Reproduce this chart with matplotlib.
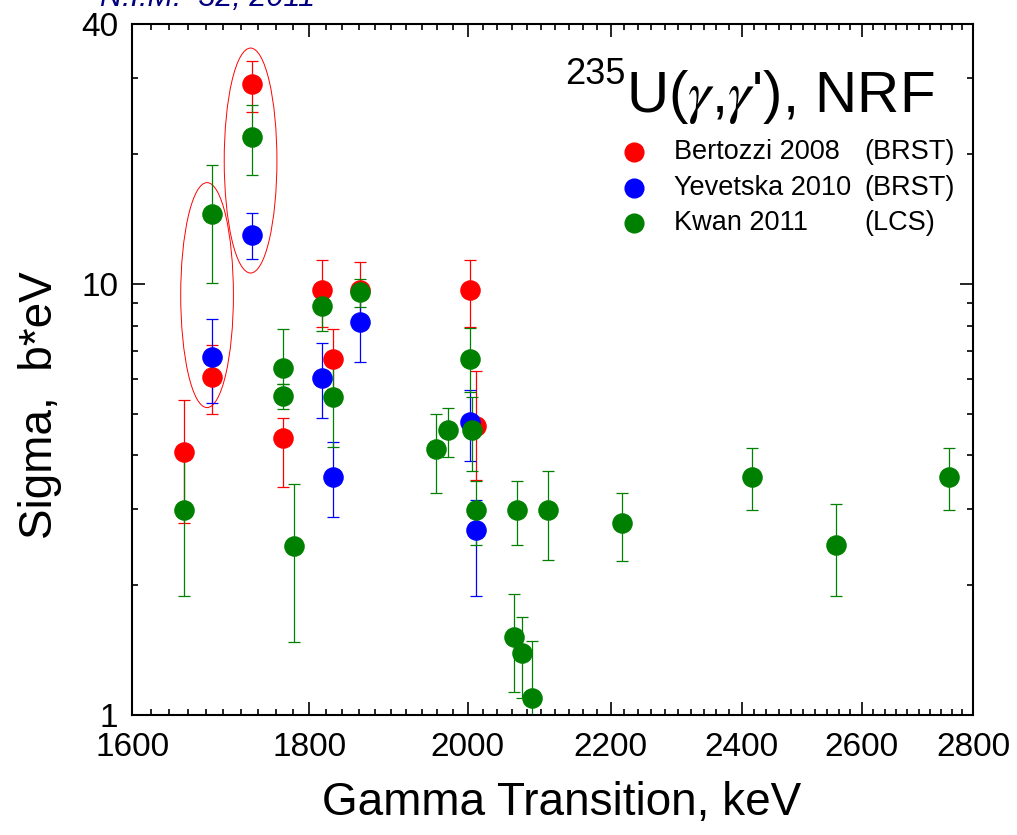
import matplotlib
matplotlib.use("Agg")
import matplotlib.pyplot as plt
import matplotlib.transforms as mtransforms
from matplotlib.patches import Ellipse
from matplotlib.ticker import FixedLocator, FixedFormatter, NullFormatter
import numpy as np

plt.rcParams['font.family'] = ['Liberation Sans', 'DejaVu Sans']
plt.rcParams['mathtext.fontset'] = 'stix'

# ---------------- data ----------------
red_x = [1656, 1687, 1733, 1769, 1815, 1828, 1862, 2003, 2011]
red_y = [4.08, 6.08, 29.0, 4.38, 9.67, 6.68, 9.67, 9.67, 4.68]
red_hi = [5.37, 7.2, 32.8, 4.87, 11.35, 7.85, 11.25, 11.35, 6.28]
red_lo = [2.78, 4.98, 25.0, 3.38, 7.95, 5.7, 8.2, 7.93, 3.51]

blue_x = [1687, 1733, 1815, 1828, 1862, 2003, 2011]
blue_y = [6.76, 13.0, 6.05, 3.57, 8.17, 4.79, 2.69]
blue_hi = [8.27, 14.6, 7.27, 4.29, 9.6, 5.67, 3.15]
blue_lo = [5.28, 11.4, 4.87, 2.88, 6.57, 3.88, 1.89]

green_x = [1656, 1687, 1733, 1769, 1769, 1782, 1815, 1828, 1862, 1958, 1974,
           2003, 2006, 2011, 2063, 2067, 2074, 2087, 2110, 2216, 2416, 2556, 2755]
green_y = [2.99, 14.5, 21.9, 6.37, 5.49, 2.47, 8.86, 5.47, 9.55, 4.13, 4.58,
           6.68, 4.58, 2.99, 1.52, 2.99, 1.39, 1.093, 2.99, 2.78, 3.57, 2.48, 3.57]
green_hi = [4.08, 18.8, 25.9, 7.85, 5.85, 3.44, 9.96, 6.75, 10.26, 4.99, 5.16,
            7.88, 5.47, 3.48, 1.91, 3.48, 1.685, 1.487, 3.68, 3.28, 4.17, 3.08, 4.17]
green_lo = [1.89, 10.05, 17.9, 5.85, 5.12, 1.48, 7.77, 4.19, 8.84, 3.27, 3.97,
            5.6, 3.68, 2.48, 1.13, 2.48, 1.093, 0.85, 2.29, 2.28, 2.98, 1.89, 2.98]

series_names = ["Bertozzi 2008", "Yevetska 2010", "Kwan 2011"]
series_tags = ["(BRST)", "(BRST)", "(LCS)"]
series_colors = ["#ff0000", "#0000ff", "#008000"]

x_major = [1600, 1800, 2000, 2200, 2400, 2600, 2800]
x_minor = list(range(1600, 2801, 20))
y_major = [1, 10, 40]
y_minor = [2, 3, 4, 5, 6, 7, 8, 9, 20, 30]

# ellipses marking doublets: (x centre, y centre)
ellipse_centres = [(1731, 19.3), (1681.6, 9.41)]

# ---------------- figure ----------------
fig = plt.figure(figsize=(10.17, 8.35), dpi=100)
ax = fig.add_axes([0.1301, 0.1437, 0.8269, 0.8275])
ax.set_xscale('log')
ax.set_yscale('log')
ax.set_xlim(1600, 2800)
ax.set_ylim(1, 40)

datasets = [(red_x, red_y, red_hi, red_lo),
            (blue_x, blue_y, blue_hi, blue_lo),
            (green_x, green_y, green_hi, green_lo)]
for (xs, ys, hi, lo), col in zip(datasets, series_colors):
    ys = np.array(ys)
    yerr = [ys - np.array(lo), np.array(hi) - ys]
    ax.errorbar(xs, ys, yerr=yerr, fmt='o', color=col, ms=13.8, mec=col,
                elinewidth=0.9, capsize=4.3, capthick=0.9)

for (xc, yc) in ellipse_centres:
    trans = fig.dpi_scale_trans + mtransforms.ScaledTranslation(xc, yc, ax.transData)
    ax.add_patch(Ellipse((0, 0), 0.527, 2.25, transform=trans, fill=False,
                         edgecolor='#ff0000', lw=0.7, clip_on=False))

# ticks
ax.xaxis.set_major_locator(FixedLocator(x_major))
ax.xaxis.set_major_formatter(FixedFormatter([str(v) for v in x_major]))
ax.xaxis.set_minor_locator(FixedLocator(x_minor))
ax.xaxis.set_minor_formatter(NullFormatter())
ax.yaxis.set_major_locator(FixedLocator(y_major))
ax.yaxis.set_major_formatter(FixedFormatter([str(v) for v in y_major]))
ax.yaxis.set_minor_locator(FixedLocator(y_minor))
ax.yaxis.set_minor_formatter(NullFormatter())

ax.tick_params(which='both', direction='in', top=True, right=True, width=1.2)
ax.tick_params(which='major', length=9.5)
ax.tick_params(which='minor', length=4.5)
ax.tick_params(axis='x', which='major', labelsize=24, pad=12)
ax.tick_params(axis='y', which='major', labelsize=24, pad=10)
for s in ax.spines.values():
    s.set_linewidth(1.5)

ax.set_xlabel("Gamma Transition, keV", fontsize=33)
ax.xaxis.set_label_coords(0.511, -0.095)
ax.set_ylabel("Sigma,  b*eV", fontsize=33)
ax.yaxis.set_label_coords(-0.084, 0.449)

# title inside
ax.text(0.5866, 0.8733, "U($\\gamma$,$\\gamma$'), NRF", transform=ax.transAxes,
        fontsize=42, ha='left', va='baseline')
ax.text(0.5866, 0.9138, "235", transform=ax.transAxes, fontsize=26,
        ha='right', va='baseline')

# legend (manual)
row_y = [0.8152, 0.7631, 0.7116]
for name, tag, col, yy in zip(series_names, series_tags, series_colors, row_y):
    ax.plot([0.5966], [yy], 'o', color=col, ms=13.5, transform=ax.transAxes,
            clip_on=False)
    ax.text(0.6436, yy, name, transform=ax.transAxes, fontsize=19.5,
            ha='left', va='center')
    ax.text(0.871, yy, tag, transform=ax.transAxes, fontsize=19.5,
            ha='left', va='center')

# clipped reference text at very top
fig.text(100 / 1017, 1 - 6 / 835, "N.I.M.  32, 2011", color='#000080',
         fontsize=22, style='italic', ha='left', va='baseline')

fig.savefig("out.png", dpi=100)
